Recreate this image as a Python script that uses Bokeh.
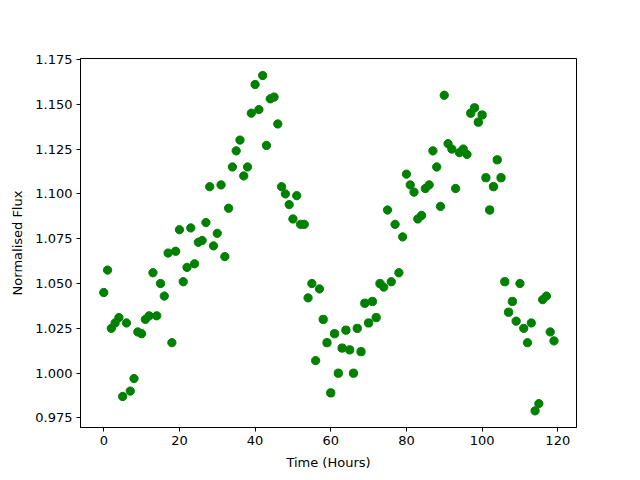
from bokeh.plotting import figure
from bokeh.models import Range1d, FixedTicker, PrintfTickFormatter
from bokeh.embed import file_html
from bokeh.resources import INLINE

hours = list(range(120))
flux = [
    1.045, 1.0575, 1.025, 1.028, 1.031, 0.987, 1.028, 0.990, 0.997, 1.023,
    1.022, 1.030, 1.032, 1.056, 1.032, 1.050, 1.043, 1.067, 1.017, 1.068,
    1.080, 1.051, 1.059, 1.081, 1.061, 1.073, 1.074, 1.084, 1.104, 1.071,
    1.078, 1.105, 1.065, 1.092, 1.115, 1.124, 1.130, 1.110, 1.115, 1.145,
    1.161, 1.147, 1.166, 1.127, 1.153, 1.154, 1.139, 1.104, 1.100, 1.094,
    1.086, 1.099, 1.083, 1.083, 1.042, 1.050, 1.007, 1.047, 1.030, 1.017,
    0.989, 1.022, 1.000, 1.014, 1.024, 1.013, 1.000, 1.025, 1.012, 1.039,
    1.028, 1.040, 1.031, 1.050, 1.048, 1.091, 1.051, 1.083, 1.056, 1.076,
    1.111, 1.105, 1.101, 1.086, 1.088, 1.103, 1.105, 1.124, 1.115, 1.093,
    1.155, 1.128, 1.125, 1.103, 1.123, 1.125, 1.122, 1.145, 1.148, 1.140,
    1.144, 1.109, 1.091, 1.104, 1.119, 1.109, 1.051, 1.034, 1.040, 1.029,
    1.050, 1.025, 1.017, 1.028, 0.979, 0.983, 1.041, 1.043, 1.023, 1.018,
]
x_ticks = [0, 20, 40, 60, 80, 100, 120]
y_ticks = [0.975, 1.000, 1.025, 1.050, 1.075, 1.100, 1.125, 1.150, 1.175]

p = figure(width=624, height=472, output_backend="svg", toolbar_location=None,
           x_range=Range1d(-6.15, 124.95), y_range=Range1d(0.9697, 1.1755),
           min_border_left=80, min_border_right=48, min_border_top=58,
           min_border_bottom=45)

p.scatter(hours, flux, size=8.3, color="#008000")

p.xgrid.visible = False
p.ygrid.visible = False
p.outline_line_color = "black"
p.outline_line_width = 1

p.xaxis.ticker = FixedTicker(ticks=x_ticks)
p.yaxis.ticker = FixedTicker(ticks=y_ticks)
p.yaxis.formatter = PrintfTickFormatter(format="%.3f")
p.xaxis.axis_label = "Time (Hours)"
p.yaxis.axis_label = "Normalised Flux"

for ax in (p.xaxis[0], p.yaxis[0]):
    ax.major_tick_in = 0
    ax.major_tick_out = 4
    ax.minor_tick_in = 0
    ax.minor_tick_out = 0
    ax.axis_line_color = "black"
    ax.major_tick_line_color = "black"
    ax.major_label_text_font = "DejaVu Sans"
    ax.major_label_text_font_size = "13px"
    ax.major_label_text_color = "black"
    ax.major_label_standoff = 4
    ax.axis_label_text_font = "DejaVu Sans"
    ax.axis_label_text_font_size = "13px"
    ax.axis_label_text_font_style = "normal"
    ax.axis_label_text_color = "black"
    ax.axis_label_standoff = 7

open("out.html", "w").write(file_html(p, INLINE))
